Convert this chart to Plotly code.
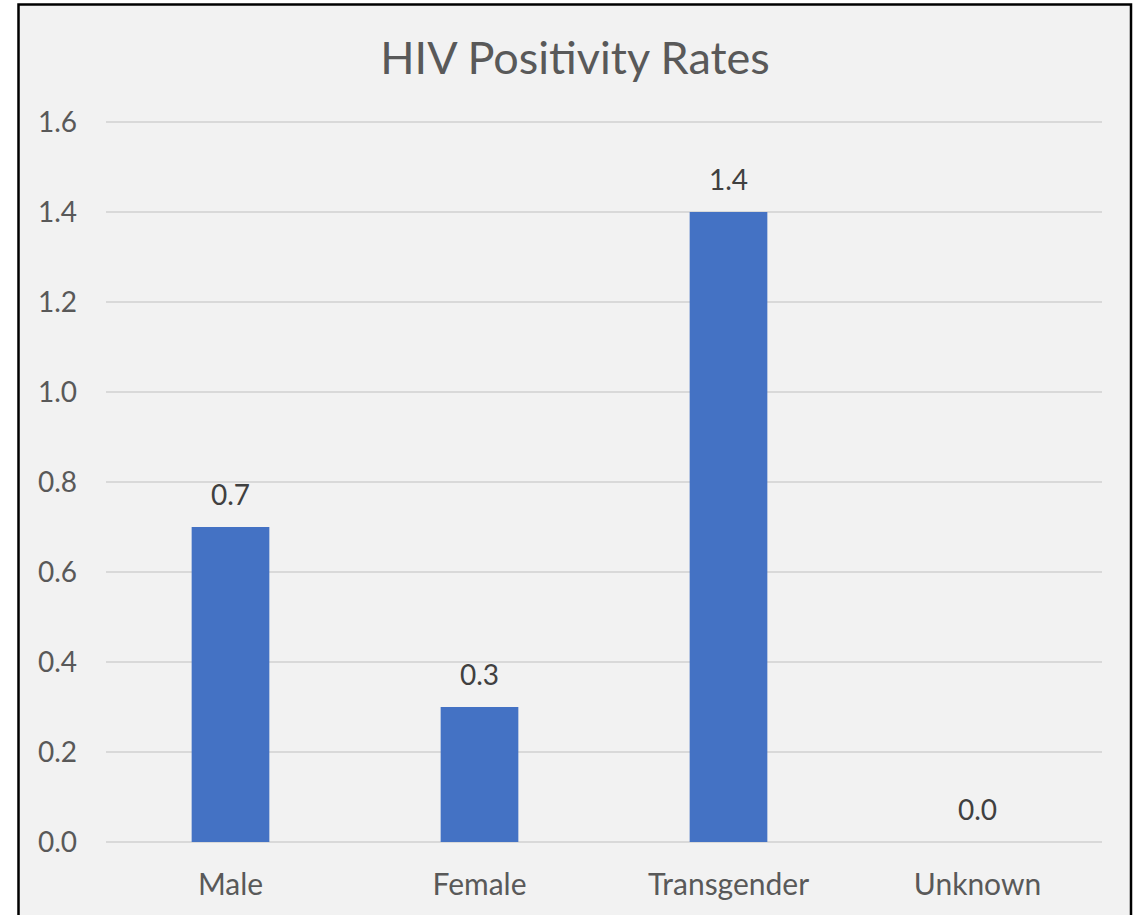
import plotly.graph_objects as go

categories = ["Male", "Female", "Transgender", "Unknown"]
values = [0.7, 0.3, 1.4, 0.0]
y_ticks = [0.0, 0.2, 0.4, 0.6, 0.8, 1.0, 1.2, 1.4, 1.6]
y_tick_labels = ["0.0", "0.2", "0.4", "0.6", "0.8", "1.0", "1.2", "1.4", "1.6"]

W, H = 1142, 915
L, R, T, B = 106, 40, 113, 73
pw, ph = W - L - R, H - T - B

FONT = "Lato, 'Open Sans', sans-serif"

fig = go.Figure()
fig.add_trace(go.Bar(
    x=categories, y=values,
    marker=dict(color="#4472c4", line=dict(width=0)),
    hoverinfo="x+y",
))

for c, v in zip(categories, values):
    fig.add_annotation(
        x=c, y=v, text=f"{v:.1f}", showarrow=False,
        yanchor="bottom", yshift=14,
        font=dict(family=FONT, size=28, color="#404040"),
    )

def px_x(p):
    return (p - L) / pw

def px_y(p):
    return (H - B - p) / ph

# chart border (light grey chart area with black frame)
fig.add_shape(
    type="rect", xref="paper", yref="paper", layer="below",
    x0=px_x(18.5), x1=px_x(1131), y0=px_y(930), y1=px_y(4.5),
    line=dict(color="black", width=2.5), fillcolor="#f2f2f2",
)

fig.update_layout(
    width=W, height=H,
    margin=dict(l=L, r=R, t=T, b=B, pad=0),
    paper_bgcolor="white",
    plot_bgcolor="rgba(0,0,0,0)",
    bargap=0.688,
    showlegend=False,
    font=dict(family=FONT, color="#595959"),
    title=dict(
        text="HIV Positivity Rates", xref="container", x=575 / W, xanchor="center",
        yref="container", y=1 - 58 / H, yanchor="middle",
        font=dict(family=FONT, size=45, color="#595959"),
    ),
    xaxis=dict(
        showgrid=False, showline=False, zeroline=False, ticks="",
        tickfont=dict(family=FONT, size=30, color="#595959"),
        ticklabelstandoff=22,
    ),
    yaxis=dict(
        range=[0, 1.62], tickvals=y_ticks, ticktext=y_tick_labels,
        showgrid=True, gridcolor="#d9d9d9", gridwidth=1.5,
        zeroline=True, zerolinecolor="#d9d9d9", zerolinewidth=1.5,
        showline=False, ticks="",
        tickfont=dict(family=FONT, size=28, color="#595959"),
        ticklabelstandoff=28,
    ),
)

fig.write_html("out.html", config={"displayModeBar": False},
               post_script="document.body.style.margin='0';")
